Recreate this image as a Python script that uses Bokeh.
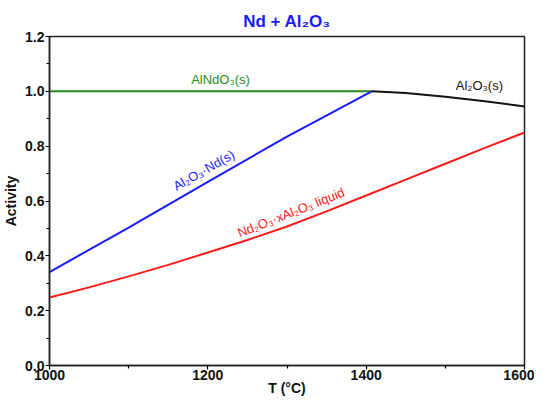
import math
from bokeh.plotting import figure
from bokeh.models import Range1d, FixedTicker, PrintfTickFormatter
from bokeh.core.properties import value
from bokeh.embed import file_html
from bokeh.resources import INLINE

# ---- data ----
T_liquid = [1000, 1050, 1100, 1150, 1200, 1250, 1300, 1350, 1400, 1450, 1500, 1550, 1600]
a_liquid = [0.248, 0.285, 0.325, 0.367, 0.412, 0.458, 0.507, 0.562, 0.620, 0.678, 0.736, 0.794, 0.850]

T_alnd = [1000, 1100, 1200, 1300, 1407]
a_alnd = [0.341, 0.503, 0.670, 0.835, 1.0]

T_alndo3 = [1000, 1407]
a_alndo3 = [1.0, 1.0]

T_al2o3 = [1407, 1450, 1500, 1550, 1600]
a_al2o3 = [1.0, 0.994, 0.980, 0.964, 0.945]

x_ticks = [1000, 1200, 1400, 1600]
x_minor = [1100, 1300, 1500]
y_ticks = [0.0, 0.2, 0.4, 0.6, 0.8, 1.0, 1.2]
y_minor = [0.1, 0.3, 0.5, 0.7, 0.9, 1.1]

title_text = "Nd + Al\u2082O\u2083"
x_label = "T (\u00b0C)"
y_label = "Activity"
lbl_alndo3 = "AlNdO\u2083(s)"
lbl_al2o3 = "Al\u2082O\u2083(s)"
lbl_alnd = "Al\u2082O\u2083\u00b7Nd(s)"
lbl_liquid = "Nd\u2082O\u2083\u00b7xAl\u2082O\u2083 liquid"

FONT = "Liberation Sans"

p = figure(width=534, height=398, output_backend="svg", toolbar_location=None,
           x_range=Range1d(1000, 1600), y_range=Range1d(0.0, 1.2),
           min_border_left=44, min_border_right=10, min_border_top=36, min_border_bottom=20)

p.title.text = title_text
p.title.align = "center"
p.title.text_font = FONT
p.title.text_font_size = "17px"
p.title.text_font_style = "bold"
p.title.text_color = "#1a1aff"
p.title.standoff = 12

p.xgrid.visible = False
p.ygrid.visible = False
p.outline_line_color = "#222222"
p.outline_line_width = 1.5
p.background_fill_color = "white"
p.border_fill_color = "white"

for ax in (p.xaxis[0], p.yaxis[0]):
    ax.axis_line_color = "#222222"
    ax.axis_line_width = 1.5
    ax.major_tick_line_width = 1.2
    ax.minor_tick_line_width = 1.2
    ax.major_tick_out = 4
    ax.major_tick_in = 0
    ax.minor_tick_out = 3
    ax.minor_tick_in = 0
    ax.major_label_text_font = FONT
    ax.major_label_text_font_style = "bold"
    ax.major_label_text_font_size = "14px"
    ax.major_label_text_color = "#111111"
    ax.axis_label_text_font = FONT
    ax.axis_label_text_font_style = "bold"
    ax.axis_label_text_font_size = "14px"
    ax.axis_label_text_color = "#111111"
    ax.major_label_standoff = 1

p.xaxis.ticker = FixedTicker(ticks=x_ticks, minor_ticks=x_minor)
p.yaxis.ticker = FixedTicker(ticks=y_ticks, minor_ticks=y_minor)
p.yaxis.formatter = PrintfTickFormatter(format="%.1f")
p.xaxis.axis_label = x_label
p.yaxis.axis_label = y_label
p.xaxis.axis_label_standoff = -3
p.xaxis.major_label_standoff = 0
p.yaxis.axis_label_standoff = 3

p.line(T_alndo3, a_alndo3, line_color="#1e8a1e", line_width=2)
p.line(T_alnd, a_alnd, line_color="#1a1aff", line_width=2)
p.line(T_al2o3, a_al2o3, line_color="#111111", line_width=2)
p.line(T_liquid, a_liquid, line_color="#ff1a1a", line_width=2)

p.text(x=[1216], y=[1.042], text=[lbl_alndo3], text_color="#1e8a1e",
       text_font=value(FONT), text_font_size="13px",
       text_align="center", text_baseline="middle")
p.text(x=[1543], y=[1.022], text=[lbl_al2o3], text_color="#111111",
       text_font=value(FONT), text_font_size="13px",
       text_align="center", text_baseline="middle")
p.text(x=[1195], y=[0.712], text=[lbl_alnd], text_color="#1a1aff",
       text_font=value(FONT), text_font_size="13px",
       text_align="center", text_baseline="middle", angle=math.radians(29.5))
p.text(x=[1305], y=[0.558], text=[lbl_liquid], text_color="#ff1a1a",
       text_font=value(FONT), text_font_size="13px",
       text_align="center", text_baseline="middle", angle=math.radians(21.5))

open("out.html", "w").write(file_html(p, INLINE))
